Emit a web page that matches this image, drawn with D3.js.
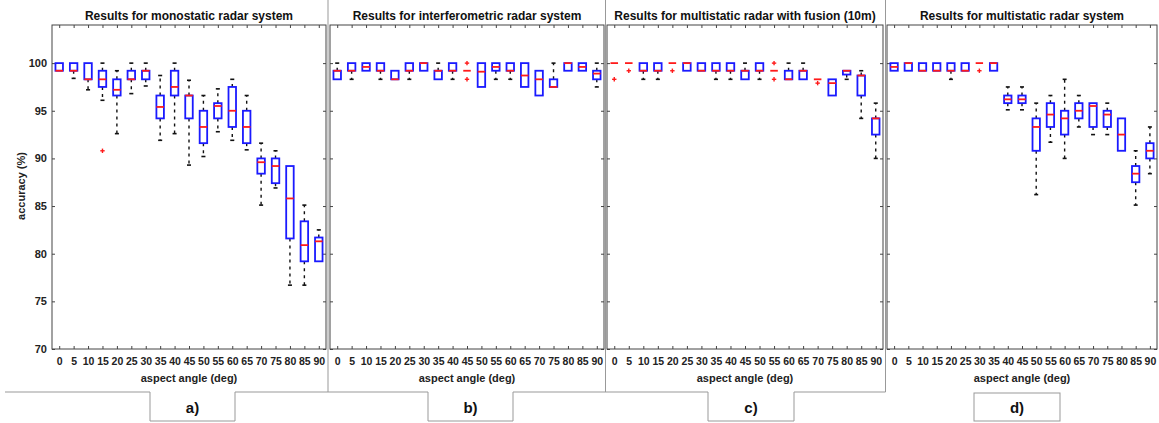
<!DOCTYPE html>
<html>
<head>
<meta charset="utf-8">
<script src="https://cdn.jsdelivr.net/npm/d3@7"></script>
<style>
  body { margin: 0; background: #fff; }
  svg { display: block; font-family: "Liberation Sans", Arial, sans-serif; }
</style>
</head>
<body>
<div id="chart"></div>
<script>
'use strict';

// aspect angles (deg), one box per angle
const angles = [0, 5, 10, 15, 20, 25, 30, 35, 40, 45, 50, 55, 60, 65, 70, 75, 80, 85, 90];
const yTicks = [70, 75, 80, 85, 90, 95, 100];

// a) monostatic
const monoQ1  = [99.2, 99.2, 98.3, 97.5, 96.6, 98.3, 98.3, 94.2, 96.6, 94.2, 91.6, 94.2, 93.3, 91.6, 88.4, 87.4, 81.6, 79.2, 79.2];
const monoMed = [99.2, 99.2, 98.3, 98.3, 97.2, 98.3, 99.2, 95.4, 97.5, 96.6, 93.3, 95.5, 95.0, 93.3, 89.6, 89.2, 85.8, 80.9, 81.3];
const monoQ3  = [100, 100, 100, 99.2, 98.3, 99.2, 99.2, 96.6, 99.2, 96.6, 95.0, 95.8, 97.5, 95.0, 90.0, 90.0, 89.2, 83.4, 81.7];
const monoLo  = [99.2, 98.4, 97.2, 96.1, 92.6, 96.8, 97.6, 91.9, 92.6, 89.3, 90.2, 92.8, 91.9, 90.9, 85.1, 86.9, 76.7, 76.7, 79.2];
const monoHi  = [100, 100, 100, 100, 99.2, 100, 100, 98.7, 100, 98.2, 96.6, 97.3, 98.3, 96.6, 91.6, 90.8, 89.2, 85.1, 82.5];
const monoOut = [[15, 90.8]];

// b) interferometric
const interQ1  = [98.3, 99.2, 99.2, 99.2, 98.3, 99.2, 99.2, 98.3, 99.2, 99.2, 97.5, 99.2, 99.2, 97.5, 96.6, 97.5, 99.2, 99.2, 98.3];
const interMed = [99.2, 99.2, 99.6, 99.2, 98.3, 99.2, 100, 99.2, 99.2, 99.2, 99.1, 99.6, 99.2, 98.7, 98.3, 97.5, 100, 99.6, 98.9];
const interQ3  = [99.2, 100, 100, 100, 99.2, 100, 100, 99.2, 100, 99.2, 100, 100, 100, 100, 99.2, 98.3, 100, 100, 99.2];
const interLo  = [98.3, 98.3, 99.2, 98.3, 98.3, 98.3, 99.2, 98.3, 98.3, 99.2, 97.5, 98.3, 98.3, 97.5, 96.6, 97.5, 99.2, 99.2, 97.5];
const interHi  = [100, 100, 100, 100, 99.2, 100, 100, 100, 100, 99.2, 100, 100, 100, 100, 99.2, 100, 100, 100, 100];
const interOut = [[45, 100], [45, 98.3]];

// c) multistatic with fusion (10m)
const fusionQ1  = [100, 100, 99.2, 99.2, 100, 99.2, 99.2, 99.2, 99.2, 98.3, 99.2, 99.2, 98.3, 98.3, 98.3, 96.6, 98.8, 96.6, 92.5];
const fusionMed = [100, 100, 99.2, 99.2, 100, 100, 99.2, 99.2, 99.2, 99.2, 99.2, 99.2, 98.3, 99.2, 98.3, 97.9, 99.2, 98.7, 94.2];
const fusionQ3  = [100, 100, 100, 100, 100, 100, 100, 100, 100, 99.2, 100, 99.2, 99.2, 99.2, 98.3, 98.3, 99.2, 98.7, 94.2];
const fusionLo  = [100, 100, 98.3, 98.3, 100, 99.2, 99.2, 98.3, 98.3, 98.3, 98.3, 99.2, 98.3, 98.3, 98.3, 96.6, 98.3, 94.2, 90.0];
const fusionHi  = [100, 100, 100, 100, 100, 100, 100, 100, 100, 100, 100, 99.2, 100, 100, 98.3, 98.3, 99.2, 99.2, 95.8];
const fusionOut = [[0, 98.3], [5, 99.2], [20, 99.2], [55, 100], [55, 98.3], [70, 97.9]];

// d) multistatic
const multiQ1  = [99.2, 99.2, 99.2, 99.2, 99.2, 99.2, 100, 99.2, 95.8, 95.8, 90.8, 93.3, 92.5, 94.2, 93.3, 93.3, 90.8, 87.5, 90.0];
const multiMed = [99.6, 100, 99.2, 99.2, 99.2, 99.2, 100, 100, 96.2, 96.2, 93.3, 94.6, 94.2, 95.0, 95.5, 94.6, 92.5, 88.4, 90.8];
const multiQ3  = [100, 100, 100, 100, 100, 100, 100, 100, 96.6, 96.6, 94.2, 95.8, 95.0, 95.8, 95.8, 95.0, 94.2, 89.2, 91.6];
const multiLo  = [99.2, 99.2, 99.2, 99.2, 98.3, 99.2, 100, 99.2, 95.1, 95.1, 86.2, 91.7, 90.0, 93.3, 92.5, 92.5, 90.8, 85.1, 88.4];
const multiHi  = [100, 100, 100, 100, 100, 100, 100, 100, 97.5, 97.5, 95.8, 96.6, 98.3, 96.6, 95.8, 95.8, 94.2, 90.8, 93.3];
const multiOut = [[30, 99.2]];

const W = 1159, H = 423;
const plotTop = 25, plotBottom = 349;

const panels = [
  { title: "Results for monostatic radar system", left: 52, right: 326, yLabels: true,
    q1: monoQ1, med: monoMed, q3: monoQ3, lo: monoLo, hi: monoHi, out: monoOut, tag: "a)", tab: [150, 235] },
  { title: "Results for interferometric radar system", left: 330, right: 604,
    q1: interQ1, med: interMed, q3: interQ3, lo: interLo, hi: interHi, out: interOut, tag: "b)", tab: [428, 513] },
  { title: "Results for multistatic radar with fusion (10m)", left: 607, right: 883,
    q1: fusionQ1, med: fusionMed, q3: fusionQ3, lo: fusionLo, hi: fusionHi, out: fusionOut, tag: "c)", tab: [708, 794] },
  { title: "Results for multistatic radar system", left: 887, right: 1157,
    q1: multiQ1, med: multiMed, q3: multiQ3, lo: multiLo, hi: multiHi, out: multiOut, tag: "d)", tab: [974, 1060] }
];

const svg = d3.select("#chart").append("svg")
  .attr("width", W)
  .attr("height", H);

// frame lines and the tabs under the panels
svg.append("path")
  .attr("d", "M5,392H150V421H235V392H428V421H513V392H708V421H794V392H885.5V0")
  .attr("fill", "none")
  .attr("stroke", "#999");
svg.append("line").attr("x1", 328).attr("x2", 328).attr("y1", 0).attr("y2", 392).attr("stroke", "#999");
svg.append("line").attr("x1", 605.5).attr("x2", 605.5).attr("y1", 0).attr("y2", 392).attr("stroke", "#999");
svg.append("rect").attr("x", 974).attr("y", 393).attr("width", 86).attr("height", 28)
  .attr("fill", "none").attr("stroke", "#999");

panels.forEach((p) => drawPanel(p));

function drawPanel (p) {
  const x = d3.scalePoint().domain(angles).range([p.left, p.right]).padding(0.5);
  const y = d3.scaleLinear().domain([70, 104]).range([plotBottom, plotTop]);
  const bw = x.step() * 0.52;
  const cw = x.step() * 0.28;
  const g = svg.append("g");

  // axes (MATLAB style, ticks pointing in)
  const axB = g.append("g").attr("transform", `translate(0,${plotBottom})`)
    .call(d3.axisBottom(x).tickSizeInner(-3).tickSizeOuter(0).tickPadding(9));
  const axT = g.append("g").attr("transform", `translate(0,${plotTop})`)
    .call(d3.axisTop(x).tickSizeInner(-3).tickSizeOuter(0).tickFormat(""));
  const axL = g.append("g").attr("transform", `translate(${p.left},0)`)
    .call(d3.axisLeft(y).tickValues(yTicks).tickSizeInner(-3).tickSizeOuter(0).tickPadding(5)
      .tickFormat(p.yLabels ? d3.format("d") : ""));
  const axR = g.append("g").attr("transform", `translate(${p.right},0)`)
    .call(d3.axisRight(y).tickValues(yTicks).tickSizeInner(-3).tickSizeOuter(0).tickFormat(""));

  [axB, axT, axL, axR].forEach((a) => {
    a.select(".domain").remove();
    a.selectAll(".tick line").attr("stroke", "#444");
    a.selectAll("text").attr("fill", "#222").style("font-weight", "bold");
  });
  axB.selectAll("text").style("font-size", "10.5px");
  axL.selectAll("text").style("font-size", "11px");

  g.append("rect")
    .attr("x", p.left).attr("y", plotTop)
    .attr("width", p.right - p.left).attr("height", plotBottom - plotTop)
    .attr("fill", "none").attr("stroke", "#444");

  const rows = angles.map((a, i) => ({
    a: a, q1: p.q1[i], med: p.med[i], q3: p.q3[i], lo: p.lo[i], hi: p.hi[i]
  }));

  // whiskers
  g.selectAll(".whiskHi").data(rows.filter((d) => d.hi > d.q3))
    .enter().append("line")
    .attr("x1", (d) => x(d.a)).attr("x2", (d) => x(d.a))
    .attr("y1", (d) => y(d.q3)).attr("y2", (d) => y(d.hi))
    .attr("stroke", "#111").attr("stroke-width", 1.4).attr("stroke-dasharray", "3,4");
  g.selectAll(".whiskLo").data(rows.filter((d) => d.lo < d.q1))
    .enter().append("line")
    .attr("x1", (d) => x(d.a)).attr("x2", (d) => x(d.a))
    .attr("y1", (d) => y(d.q1)).attr("y2", (d) => y(d.lo))
    .attr("stroke", "#111").attr("stroke-width", 1.4).attr("stroke-dasharray", "3,4");

  // caps
  g.selectAll(".capHi").data(rows.filter((d) => d.hi > d.q3))
    .enter().append("line")
    .attr("x1", (d) => x(d.a) - cw / 2).attr("x2", (d) => x(d.a) + cw / 2)
    .attr("y1", (d) => y(d.hi)).attr("y2", (d) => y(d.hi))
    .attr("stroke", "#111").attr("stroke-width", 1.6);
  g.selectAll(".capLo").data(rows.filter((d) => d.lo < d.q1))
    .enter().append("line")
    .attr("x1", (d) => x(d.a) - cw / 2).attr("x2", (d) => x(d.a) + cw / 2)
    .attr("y1", (d) => y(d.lo)).attr("y2", (d) => y(d.lo))
    .attr("stroke", "#111").attr("stroke-width", 1.6);

  // boxes
  g.selectAll(".box").data(rows.filter((d) => d.q3 > d.q1))
    .enter().append("rect")
    .attr("x", (d) => x(d.a) - bw / 2)
    .attr("y", (d) => y(d.q3))
    .attr("width", bw)
    .attr("height", (d) => y(d.q1) - y(d.q3))
    .attr("fill", "none").attr("stroke", "#1a1aff").attr("stroke-width", 1.8);

  // medians
  g.selectAll(".med").data(rows)
    .enter().append("line")
    .attr("x1", (d) => x(d.a) - bw / 2).attr("x2", (d) => x(d.a) + bw / 2)
    .attr("y1", (d) => y(d.med)).attr("y2", (d) => y(d.med))
    .attr("stroke", "#ff1a1a").attr("stroke-width", 1.8);

  // outliers as red pluses
  const outs = g.selectAll(".out").data(p.out).enter().append("g")
    .attr("transform", (d) => `translate(${x(d[0])},${y(d[1])})`);
  outs.append("line").attr("x1", -2.2).attr("x2", 2.2).attr("stroke", "#ff1a1a").attr("stroke-width", 1.4);
  outs.append("line").attr("y1", -2.2).attr("y2", 2.2).attr("stroke", "#ff1a1a").attr("stroke-width", 1.4);

  // texts
  g.append("text")
    .attr("x", (p.left + p.right) / 2).attr("y", 20)
    .attr("text-anchor", "middle")
    .style("font-size", "12px").style("font-weight", "bold").attr("fill", "#111")
    .text(p.title);

  g.append("text")
    .attr("x", (p.left + p.right) / 2).attr("y", 382)
    .attr("text-anchor", "middle")
    .style("font-size", "11px").style("font-weight", "bold").attr("fill", "#222")
    .text("aspect angle (deg)");

  g.append("text")
    .attr("x", (p.tab[0] + p.tab[1]) / 2).attr("y", 413)
    .attr("text-anchor", "middle")
    .style("font-size", "15px").style("font-weight", "bold").attr("fill", "#111")
    .text(p.tag);

  if (p.yLabels) {
    g.append("text")
      .attr("transform", "translate(25,186) rotate(-90)")
      .attr("text-anchor", "middle")
      .style("font-size", "11px").style("font-weight", "bold").attr("fill", "#222")
      .text("accuracy (%)");
  }
}
</script>
</body>
</html>
